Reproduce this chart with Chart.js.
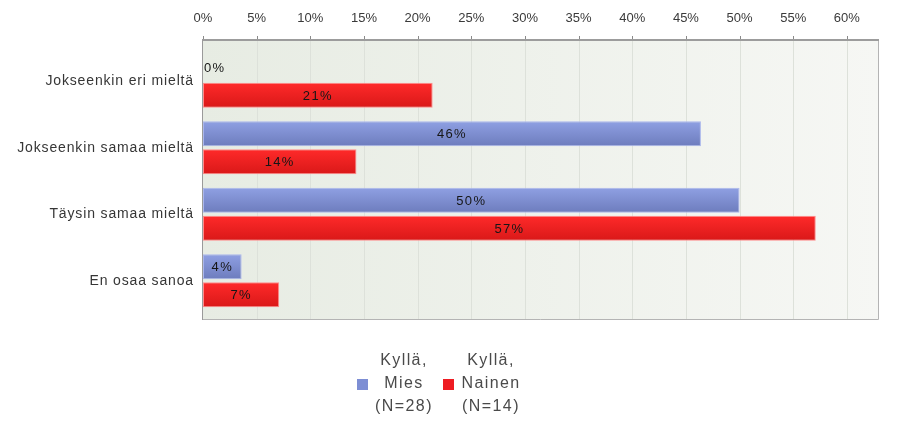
<!DOCTYPE html>
<html><head><meta charset="utf-8">
<script src="https://cdn.jsdelivr.net/npm/chart.js@4/dist/chart.umd.min.js"></script>
<style>
body{margin:0;background:#fff;}
#wrap{position:relative;width:915px;height:427px;overflow:hidden;}
#c{position:absolute;left:0;top:0;}
.lg{position:absolute;font-family:"Liberation Sans",Arial,sans-serif;font-size:16px;color:#4a4a4a;text-align:center;line-height:23px;letter-spacing:1.4px;white-space:nowrap;}
.sw{position:absolute;width:11px;height:11px;}
</style></head><body>
<div id="wrap"><canvas id="c" width="915" height="427"></canvas></div>
<script>
const categories = ["Jokseenkin eri mieltä", "Jokseenkin samaa mieltä", "Täysin samaa mieltä", "En osaa sanoa"];
const seriesNames = [["Kyllä,", "Mies", "(N=28)"], ["Kyllä,", "Nainen", "(N=14)"]];
const miesValues = [0, 46.4, 50.0, 3.6];
const nainenValues = [21.4, 14.3, 57.1, 7.1];
const tickValues = [0, 5, 10, 15, 20, 25, 30, 35, 40, 45, 50, 55, 60];
const axisMax = 62.9;

const FONT = '"Liberation Sans", Arial, sans-serif';
const FRAME_TOP = 40, FRAME_BOTTOM = 319;

const colors = [
  {top:'#8fa0e3', bottom:'#6d7cbd', border:'#aab6ec', solid:'#7d8ed4'},
  {top:'#ff2a2a', bottom:'#d91818', border:'#ff8a8a', solid:'#ee1c22'}
];

const bgPlugin = {
  id:'bgframe',
  beforeDatasetsDraw(chart){
    const {ctx, chartArea:a, scales:{x}} = chart;
    ctx.save();
    const g = ctx.createLinearGradient(a.left,0,a.right,0);
    g.addColorStop(0,'#e7ece3'); g.addColorStop(1,'#f6f7f4');
    ctx.fillStyle = g;
    ctx.fillRect(a.left, FRAME_TOP, a.right-a.left, FRAME_BOTTOM-FRAME_TOP);
    ctx.lineWidth = 1;
    tickValues.forEach(v=>{
      const px = Math.round(x.getPixelForValue(v)) + 0.5;
      if (v !== 0) {
        ctx.strokeStyle = '#dde1da';
        ctx.beginPath(); ctx.moveTo(px, FRAME_TOP); ctx.lineTo(px, FRAME_BOTTOM); ctx.stroke();
      }
      ctx.strokeStyle = '#8a8a8a';
      ctx.beginPath(); ctx.moveTo(px, FRAME_TOP-4); ctx.lineTo(px, FRAME_TOP); ctx.stroke();
    });
    ctx.strokeStyle = '#b4b4b4';
    ctx.beginPath();
    ctx.moveTo(Math.round(a.right)+0.5, FRAME_TOP); ctx.lineTo(Math.round(a.right)+0.5, FRAME_BOTTOM+0.5);
    ctx.lineTo(Math.round(a.left), FRAME_BOTTOM+0.5);
    ctx.stroke();
    ctx.strokeStyle = '#9a9a9a';
    ctx.beginPath();
    ctx.moveTo(Math.round(a.left)-0.5, FRAME_TOP); ctx.lineTo(Math.round(a.left)-0.5, FRAME_BOTTOM+1);
    ctx.stroke();
    ctx.lineWidth = 2;
    ctx.strokeStyle = '#9c9c9c';
    ctx.beginPath(); ctx.moveTo(a.left-1, FRAME_TOP); ctx.lineTo(a.right+1, FRAME_TOP); ctx.stroke();
    ctx.restore();
    chart.data.datasets.forEach((ds,i)=>{
      const meta = chart.getDatasetMeta(i);
      meta.data.forEach(el=>{
        const h = el.height || 0;
        const gr = ctx.createLinearGradient(0, el.y - h/2, 0, el.y + h/2);
        gr.addColorStop(0, colors[i].top); gr.addColorStop(1, colors[i].bottom);
        el.options = Object.assign({}, el.options, {backgroundColor: gr});
      });
    });
  },
  afterDatasetsDraw(chart){
    const {ctx} = chart;
    ctx.save();
    ctx.font = '13px ' + FONT;
    ctx.letterSpacing = '1.3px';
    ctx.fillStyle = '#161616';
    ctx.textBaseline = 'middle';
    ctx.textAlign = 'center';
    chart.data.datasets.forEach((ds,i)=>{
      const meta = chart.getDatasetMeta(i);
      meta.data.forEach((bar,j)=>{
        const txt = Math.round(ds.data[j]) + '%';
        const w = ctx.measureText(txt).width;
        let cx = (bar.base + bar.x)/2;
        if (cx - w/2 < bar.base + 1) cx = bar.base + 1 + w/2;
        ctx.fillText(txt, cx, bar.y + 1);
      });
    });
    ctx.restore();
  }
};

const chart = new Chart(document.getElementById('c'), {
  type:'bar',
  data:{
    labels: categories,
    datasets:[
      {label: seriesNames[0].join(' '), data: miesValues, backgroundColor: colors[0].solid, borderColor: colors[0].border, borderWidth:1, borderSkipped:false, categoryPercentage:0.842, barPercentage:0.9},
      {label: seriesNames[1].join(' '), data: nainenValues, backgroundColor: colors[1].solid, borderColor: colors[1].border, borderWidth:1, borderSkipped:false, categoryPercentage:0.842, barPercentage:0.9}
    ]
  },
  options:{
    indexAxis:'y',
    responsive:false,
    animation:false,
    events:[],
    layout:{padding:{left:0, right:37, top:0, bottom:113}},
    plugins:{legend:{display:false}, tooltip:{enabled:false}},
    scales:{
      x:{
        position:'top', min:0, max:axisMax,
        afterBuildTicks(s){ s.ticks = tickValues.map(v=>({value:v})); },
        afterFit(s){ s.height = 48; },
        grid:{display:false}, border:{display:false},
        ticks:{callback:v=>v+'%', font:{family:FONT, size:13}, color:'#3a3a3a', padding:14, maxRotation:0, autoSkip:false}
      },
      y:{
        afterFit(s){
          s.width = 203;
          if (!s._lsPatched) {
            const orig = s.drawLabels.bind(s);
            s.drawLabels = function(ca){ const c = this.ctx; c.save(); c.letterSpacing = '0.85px'; orig(ca); c.restore(); };
            s._lsPatched = true;
          }
        },
        grid:{display:false}, border:{display:false},
        ticks:{font:{family:FONT, size:14}, color:'#363636', padding:1}
      }
    }
  },
  plugins:[bgPlugin]
});

const wrap = document.getElementById('wrap');
const legendPos = [{sw:357, cx:404}, {sw:443, cx:491}];
seriesNames.forEach((lines,i)=>{
  const sw = document.createElement('div');
  sw.className = 'sw';
  sw.style.left = legendPos[i].sw + 'px';
  sw.style.top = '379px';
  sw.style.background = colors[i].solid;
  wrap.appendChild(sw);
  const d = document.createElement('div');
  d.className = 'lg';
  d.style.left = (legendPos[i].cx - 45) + 'px';
  d.style.width = '90px';
  d.style.top = '348px';
  d.innerHTML = lines.join('<br>');
  wrap.appendChild(d);
});
</script>
</body></html>
